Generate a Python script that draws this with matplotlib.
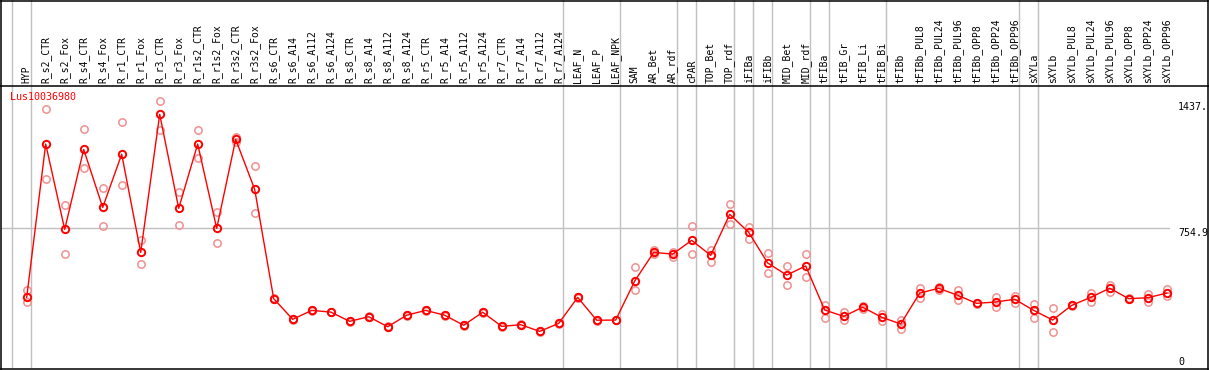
import numpy as np
import matplotlib
matplotlib.use('Agg')
import matplotlib.pyplot as plt
from matplotlib.lines import Line2D

TITLE = "Lus10036980"

SAMPLES = [
    "HYP", "R_s2_CTR", "R_s2_Fox", "R_s4_CTR", "R_s4_Fox", "R_r1_CTR",
    "R_r1_Fox", "R_r3_CTR", "R_r3_Fox", "R_r1s2_CTR", "R_r1s2_Fox",
    "R_r3s2_CTR", "R_r3s2_Fox", "R_s6_CTR", "R_s6_A14", "R_s6_A112",
    "R_s6_A124", "R_s8_CTR", "R_s8_A14", "R_s8_A112", "R_s8_A124",
    "R_r5_CTR", "R_r5_A14", "R_r5_A112", "R_r5_A124", "R_r7_CTR",
    "R_r7_A14", "R_r7_A112", "R_r7_A124", "LEAF_N", "LEAF_P", "LEAF_NPK",
    "SAM", "AR_Bet", "AR_rdf", "cPAR", "TOP_Bet", "TOP_rdf", "iFIBa",
    "iFIBb", "MID_Bet", "MID_rdf", "tFIBa", "tFIB_Gr", "tFIB_Li",
    "tFIB_Bi", "tFIBb", "tFIBb_PUL8", "tFIBb_PUL24", "tFIBb_PUL96",
    "tFIBb_OPP8", "tFIBb_OPP24", "tFIBb_OPP96", "sXYLa", "sXYLb",
    "sXYLb_PUL8", "sXYLb_PUL24", "sXYLb_PUL96", "sXYLb_OPP8",
    "sXYLb_OPP24", "sXYLb_OPP96",
]

# mean expression per sample
MEAN = [
    380, 1205, 746, 1176, 864, 1150, 622, 1365, 859, 1205, 751, 1230, 961,
    373, 262, 310, 301, 251, 276, 222, 284, 310, 284, 230, 300, 224, 233,
    197, 240, 380, 257, 258,
    468, 622, 613, 687, 606, 827, 730, 565, 500, 549, 312, 278, 327, 273,
    237, 403, 429, 391, 348, 355, 370, 310, 258, 337, 380, 429, 373, 378,
    403,
]

# replicates
REP1 = [
    420, 1392, 875, 1284, 967, 1322, 689, 1437, 945, 1279, 839, 1244, 1085,
    376, 264, 313, 303, 253, 278, 224, 286, 312, 286, 232, 302, 226, 235,
    199, 242, 382, 259, 260,
    543, 635, 622, 762, 635, 881, 758, 619, 547, 613, 339, 300, 336, 291,
    258, 430, 437, 420, 352, 382, 389, 343, 321, 341, 405, 448, 376, 400,
    423,
]
REP2 = [
    353, 1015, 613, 1074, 762, 983, 559, 1279, 768, 1128, 671, 1217, 832,
    370, 260, 307, 299, 249, 274, 220, 281, 308, 282, 228, 298, 222, 231,
    195, 238, 378, 255, 256,
    421, 612, 599, 612, 572, 773, 696, 511, 445, 490, 269, 258, 317, 254,
    211, 377, 420, 364, 344, 327, 350, 269, 192, 333, 357, 409, 369, 355,
    386,
]

# sample indices after which a grey separator is drawn
SEP_AFTER = [-1, 0, 28, 31, 34, 35, 37, 38, 39, 41, 42, 45, 52, 53, 60]

Y_MID = 754.9
Y_MAX_LABEL = "1437."

W, H = 1209, 370
FONT = "DejaVu Sans Mono"


def px(x, y):
    return x / W, 1 - y / H


fig = plt.figure(figsize=(W / 100., H / 100.), dpi=100)

# main data area: x 1..1170 px, y 86..368 px
left, right = 1, 1170
top, bottom = 86, 368
xlo = (left - 26.7) / 19.
xhi = (right - 26.7) / 19.
ax = fig.add_axes([left / W, (H - bottom) / H, (right - left) / W,
                   (bottom - top) / H])
ax.set_xlim(xlo, xhi)
ymax = Y_MID * (bottom - top) / 140.3
ax.set_ylim(0, ymax)
ax.axis('off')

hx = fig.add_axes([left / W, (H - top) / H, (right - left) / W, top / H])
hx.set_xlim(xlo, xhi)
hx.set_ylim(0, 1)
hx.axis('off')

grid = '#c0c0c0'
off = 4. / 19.
for s in SEP_AFTER:
    ax.axvline(s + off, color=grid, lw=1.0, zorder=1)
    hx.axvline(s + off, color=grid, lw=1.0, zorder=1)
ax.axhline(Y_MID, color=grid, lw=1.0, zorder=1)

xs = np.arange(len(SAMPLES))
rep_col = '#f09090'
for reps in (REP1, REP2):
    ax.plot(xs, reps, ls='none', marker='o', ms=5.3, mfc='none',
            mec=rep_col, mew=1.1, zorder=2, clip_on=False)
ax.plot(xs, MEAN, color='#ff0000', lw=1.0, marker='o', ms=5.3, mfc='none',
        mec='#ff0000', mew=1.4, zorder=3, clip_on=False)

for i, name in enumerate(SAMPLES):
    hx.text(i, 0.035, name, rotation=90, ha='center', va='bottom',
            fontsize=7, family=FONT, color='black')

fig.text(*px(10, 97), TITLE, color='#ff0000', fontsize=7.2, family=FONT,
         ha='left', va='center')

# right-hand value labels
scale = (bottom - top) / ymax
fig.text(*px(1178, bottom - 1437 * scale + 6), Y_MAX_LABEL, fontsize=7.2,
         family=FONT, ha='left', va='center')
fig.text(*px(1178, bottom - Y_MID * scale + 5), "%.1f" % Y_MID, fontsize=7.2,
         family=FONT, ha='left', va='center')
fig.text(*px(1178, 362), "0", fontsize=7.2, family=FONT, ha='left',
         va='center')

# frame and header separator
lw = 1.1
for xy in [((0.5, 1208), (369, 369)), ((0.5, 1208), (0.8, 0.8)),
           ((0.8, 0.8), (0, 370)), ((1207.8, 1207.8), (0, 370)),
           ((0, 1209), (86, 86))]:
    (x0, x1), (y0, y1) = xy
    fig.add_artist(Line2D([x0 / W, x1 / W], [1 - y0 / H, 1 - y1 / H],
                          color='black', lw=lw))

fig.savefig('out.png', dpi=100)
